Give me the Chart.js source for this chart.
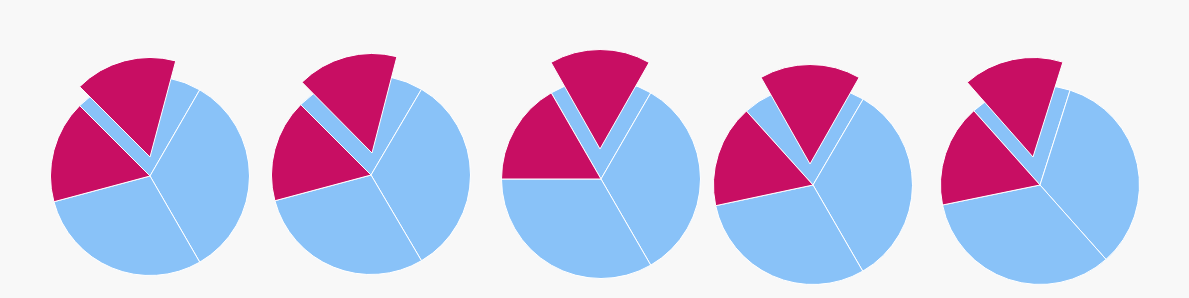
<!DOCTYPE html>
<html>
<head>
<meta charset="utf-8">
<script src="https://cdn.jsdelivr.net/npm/chart.js@4.4.1/dist/chart.umd.min.js"></script>
<style>
  html, body { margin: 0; padding: 0; background: #f8f8f8; }
  #stage { position: relative; width: 1189px; height: 298px; overflow: hidden; background: #f8f8f8; }
  #stage canvas { position: absolute; }
</style>
</head>
<body>
<div id="stage"></div>
<script>
// ---- data (angles in degrees of a 360 total) ----
const categories = ['Segment A', 'Segment B', 'Segment C', 'Segment D'];
const ghostValues  = [75, 75.5, 60, 72.3, 59.3];
const rightValues  = [120, 119, 120, 119.7, 120.8];
const bottomValues = [105, 105.5, 120, 108, 120];
const leftValues   = [60, 60, 60, 60, 59.9];
const startAngles  = [315, 315, 330, 318, 318.3];
// exploded slice
const explodedValues = [60, 59.2, 59.1, 59.1, 58.9];
const explodedStart  = [315, 315.3, 330.5, 330.5, 318.6];

// ---- layout (pixel positions of pie centres and exploded-slice tips) ----
const centers = [[150, 176], [371, 175], [601, 179], [813, 185], [1040, 185]];
const tips    = [[150, 157], [372, 153], [600, 149], [810, 164], [1033, 157]];
const RADIUS = 99.5;
const BOX = 260;

// ---- styles ----
const BLUE = '#89c2f8';
const MAGENTA = '#c80e63';
const BORDER = '#ffffff';

const stage = document.getElementById('stage');

function makeCanvas(cx, cy) {
  const c = document.createElement('canvas');
  c.width = BOX; c.height = BOX;
  c.style.width = BOX + 'px'; c.style.height = BOX + 'px';
  c.style.left = (cx - BOX / 2) + 'px';
  c.style.top = (cy - BOX / 2) + 'px';
  stage.appendChild(c);
  return c;
}

const baseOptions = (rotation) => ({
  responsive: false,
  maintainAspectRatio: false,
  animation: false,
  rotation: rotation,
  radius: RADIUS,
  layout: { padding: 0 },
  events: [],
  plugins: { legend: { display: false }, tooltip: { enabled: false } }
});

for (let i = 0; i < 5; i++) {
  // base pie with the "ghost" slot where the exploded slice came from
  new Chart(makeCanvas(centers[i][0], centers[i][1]), {
    type: 'pie',
    data: {
      labels: categories,
      datasets: [{
        data: [ghostValues[i], rightValues[i], bottomValues[i], leftValues[i]],
        backgroundColor: [BLUE, BLUE, BLUE, MAGENTA],
        borderColor: BORDER,
        borderWidth: 1,
        clip: false
      }]
    },
    options: baseOptions(startAngles[i])
  });
  // exploded slice
  new Chart(makeCanvas(tips[i][0], tips[i][1]), {
    type: 'pie',
    data: {
      labels: ['Exploded', ''],
      datasets: [{
        data: [explodedValues[i], 360 - explodedValues[i]],
        backgroundColor: [MAGENTA, 'rgba(0,0,0,0)'],
        borderColor: [BORDER, 'rgba(0,0,0,0)'],
        borderWidth: [1, 0],
        clip: false
      }]
    },
    options: baseOptions(explodedStart[i])
  });
}
</script>
</body>
</html>
